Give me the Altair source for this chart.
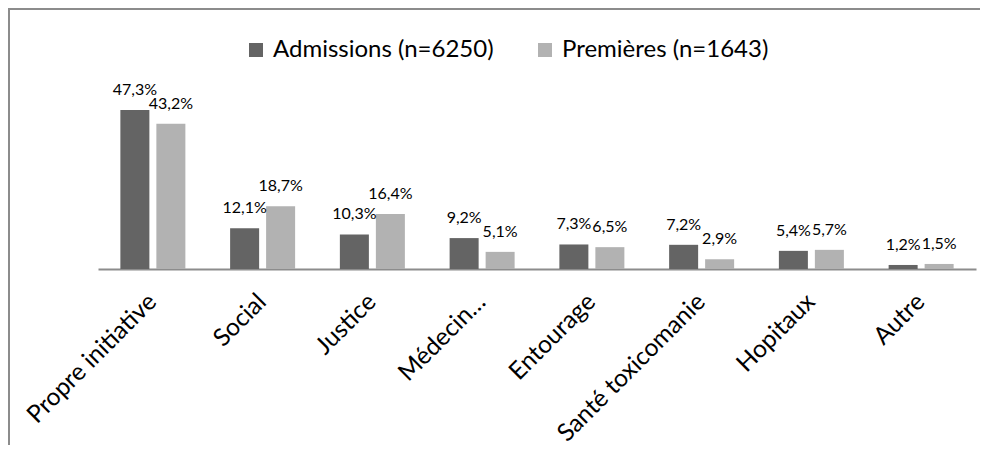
import altair as alt
import pandas as pd

categories = ["Propre initiative", "Social", "Justice", "Médecin…", "Entourage",
              "Santé toxicomanie", "Hopitaux", "Autre"]
series = ["Admissions (n=6250)", "Premières (n=1643)"]
admissions = [47.3, 12.1, 10.3, 9.2, 7.3, 7.2, 5.4, 1.2]
premieres = [43.2, 18.7, 16.4, 5.1, 6.5, 2.9, 5.7, 1.5]

rows = []
for c, a, p in zip(categories, admissions, premieres):
    rows.append({"cat": c, "serie": series[0], "val": a,
                 "label": f"{a:.1f}".replace(".", ",") + "%"})
    rows.append({"cat": c, "serie": series[1], "val": p,
                 "label": f"{p:.1f}".replace(".", ",") + "%"})
df = pd.DataFrame(rows)

FONT = "Lato"
W, H = 878, 168

x = alt.X("cat:N", sort=categories, title=None,
          scale=alt.Scale(paddingInner=0.4077, paddingOuter=0.2038),
          axis=alt.Axis(labelAngle=-45, labelFont=FONT, labelFontSize=24.5,
                        labelColor="#000000", ticks=False, domainColor="#8c8c8c",
                        domainWidth=2, labelPadding=29, labelLimit=400,
                        labelAlign="right", labelBaseline="middle"))
xo = alt.XOffset("serie:N", sort=series,
                 scale=alt.Scale(paddingInner=0.194, paddingOuter=0))
y = alt.Y("val:Q", scale=alt.Scale(domain=[0, 50]), axis=None)
color = alt.Color("serie:N", sort=series,
                  scale=alt.Scale(domain=series, range=["#646464", "#b2b2b2"]),
                  legend=alt.Legend(title=None, orient="none", direction="horizontal",
                                    legendX=146, legendY=-63, symbolType="square",
                                    symbolSize=196, symbolStrokeWidth=0,
                                    labelFont=FONT, labelFontSize=24, labelLimit=500,
                                    labelColor="#000000", columnPadding=39,
                                    labelOffset=5))

bars = alt.Chart(df).mark_bar().encode(x=x, xOffset=xo, y=y, color=color)
labels = alt.Chart(df).mark_text(font=FONT, fontSize=16, color="#000000",
                                 baseline="alphabetic", dy=-15).encode(
    x=alt.X("cat:N", sort=categories), xOffset=alt.XOffset("serie:N", sort=series),
    y="val:Q", text="label:N")

one = pd.DataFrame({"f": [0]})
frame_left = alt.Chart(one).mark_rule(color="#8c8c8c", strokeWidth=2).encode(
    x=alt.value(-89), y=alt.value(-92), y2=alt.value(H + 200))
frame_top = alt.Chart(one).mark_rule(color="#8c8c8c", strokeWidth=2).encode(
    x=alt.value(-90), x2=alt.value(W + 40), y=alt.value(-92))

chart = alt.layer(frame_left, frame_top, bars, labels).properties(
    width=W, height=H,
    padding={"left": 90, "top": 93, "right": 4, "bottom": 176},
    autosize=alt.AutoSizeParams(type="none"),
    background="#ffffff",
).configure_view(stroke=None)

chart.save("out.html", embed_options={"renderer": "svg", "actions": False})
